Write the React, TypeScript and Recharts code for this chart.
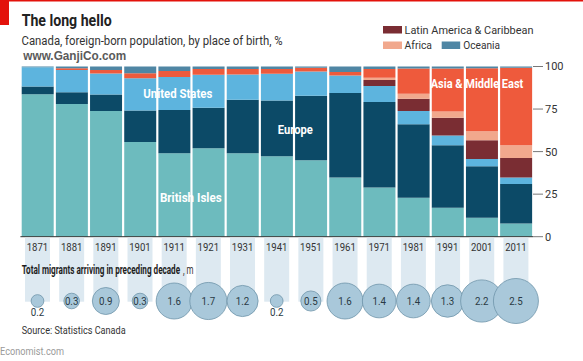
import React from "react";
import { BarChart, Bar, XAxis, YAxis, ReferenceLine, ScatterChart, Scatter, ZAxis } from "recharts";

const years = ["1871", "1881", "1891", "1901", "1911", "1921", "1931", "1941", "1951", "1961", "1971", "1981", "1991", "2001", "2011"];
const britishIsles = [83.7, 78, 73.9, 55.7, 49, 52, 49, 47.3, 44.9, 34.8, 28.9, 22.9, 17, 11.1, 7.8];
const europe = [4.5, 6.9, 9.6, 18.4, 25.5, 23.7, 31.4, 32.7, 37.9, 49.6, 50.2, 43.1, 36.7, 30.3, 23.1];
const unitedStates = [11.3, 13.1, 12.4, 19, 19.3, 19.4, 14.9, 15.8, 14.3, 10.3, 9.4, 7.8, 5.7, 4.3, 3.9];
const latinAmerica = [0, 0, 0, 0, 0, 0, 0, 0, 0, 0, 3.5, 7.3, 10.5, 10.9, 11.5];
const africa = [0, 0, 0, 0, 0, 0, 0, 0, 0, 0, 1.4, 2.9, 3.7, 5.3, 7.4];
const asia = [0, 1, 2, 3, 3.5, 3.5, 3.3, 2.7, 2.1, 2, 5.2, 14.8, 25.2, 37.1, 45.5];
const oceania = [0.5, 1, 2.1, 3.9, 2.7, 1.4, 1.4, 1.5, 0.8, 3.3, 1.4, 1.2, 1.2, 1, 0.8];
const migrants = [0.2, 0.3, 0.9, 0.3, 1.6, 1.7, 1.2, 0.2, 0.5, 1.6, 1.4, 1.4, 1.3, 2.2, 2.5];
const yTicks = [0, 25, 50, 75, 100];

const C = {
  bi: "#6dbbbe",
  eu: "#0c4a67",
  us: "#5db4de",
  la: "#7a2d33",
  af: "#f1a88d",
  as: "#ee5a3c",
  oc: "#4f86a4",
};

const table = years.map((year, i) => ({
  year,
  bi: britishIsles[i],
  eu: europe[i],
  us: unitedStates[i],
  la: latinAmerica[i],
  af: africa[i],
  as: asia[i],
  oc: oceania[i],
  m: migrants[i],
}));

const FONT = "Roboto, 'Noto Sans', sans-serif";

const YearTick = (props: any) => {
  const { x, y, payload } = props;
  return (
    <g>
      <rect x={x - 12.5} y={y + 1} width={25} height={64} fill="#dde9f1" />
      <text x={x} y={y + 14} textAnchor="middle" fontSize={10.5} fill="#333" fontFamily={FONT} textLength={21.5} lengthAdjust="spacingAndGlyphs">
        {payload.value}
      </text>
    </g>
  );
};

const Bubble = (props: any) => {
  const { cx, cy, payload } = props;
  const r = props.width ? props.width / 2 : Math.sqrt(Math.max(props.size || 0, 0) / Math.PI);
  const small = payload.m < 0.25;
  return (
    <g>
      <circle cx={cx} cy={cy} r={r} fill="#a9c8da" stroke="#6f94aa" strokeWidth={0.8} />
      <text
        x={cx}
        y={small ? cy + r + 9 : cy + 4}
        textAnchor="middle"
        fontSize={11}
        fill="#2a3a44"
        fontFamily={FONT}
        textLength={13.5}
        lengthAdjust="spacingAndGlyphs"
      >
        {payload.m.toFixed(1)}
      </text>
    </g>
  );
};

const T = (p: any) => (
  <text
    x={p.x}
    y={p.y}
    fontSize={p.size}
    fontWeight={p.bold ? 700 : 400}
    fill={p.fill || "#222"}
    textAnchor={p.anchor || "start"}
    fontFamily={p.font || FONT}
    textLength={p.len}
    lengthAdjust="spacingAndGlyphs"
  >
    {p.children}
  </text>
);

// Text scaled horizontally (via transform) so that its real box has the wanted width.
const FitText = (p: any) => {
  const ref = React.useRef<SVGTextElement>(null);
  const [k, setK] = React.useState(0.65);
  React.useLayoutEffect(() => {
    if (ref.current) {
      const w = ref.current.getComputedTextLength();
      if (w > 0) setK(p.len / w);
    }
  }, [p.len]);
  return (
    <text
      ref={ref}
      x={0}
      y={0}
      transform={`translate(${p.x},${p.y}) scale(${k},1)`}
      fontSize={p.size}
      fontWeight={p.bold ? 700 : 400}
      fill={p.fill || "#222"}
      fontFamily={FONT}
    >
      {p.children}
    </text>
  );
};

export default function App() {
  return (
    <div style={{ position: "relative", width: 583, height: 361, background: "#fff", overflow: "hidden" }}>
      <style>{"body{margin:0}"}</style>
      <div style={{ position: "absolute", left: 0, top: 0 }}>
        <BarChart
          width={583}
          height={361}
          data={table}
          margin={{ top: 66.5, right: 0, bottom: 104.3, left: 20.4 }}
          barCategoryGap={1.3}
        >
          <XAxis
            dataKey="year"
            height={20}
            axisLine={false}
            tickLine={false}
            tickSize={0}
            tickMargin={0}
            interval={0}
            tick={<YearTick />}
          />
          <YAxis
            orientation="right"
            width={50}
            domain={[0, 100]}
            ticks={yTicks}
            axisLine={false}
            tickSize={10}
            tickMargin={2}
            tickLine={{ stroke: "#555", strokeWidth: 0.8 }}
            tick={{ fontSize: 11, fill: "#333", fontFamily: FONT }}
            interval={0}
          />
          <Bar dataKey="bi" stackId="a" fill={C.bi} isAnimationActive={false} />
          <Bar dataKey="eu" stackId="a" fill={C.eu} isAnimationActive={false} />
          <Bar dataKey="us" stackId="a" fill={C.us} isAnimationActive={false} />
          <Bar dataKey="la" stackId="a" fill={C.la} isAnimationActive={false} />
          <Bar dataKey="af" stackId="a" fill={C.af} isAnimationActive={false} />
          <Bar dataKey="as" stackId="a" fill={C.as} isAnimationActive={false} />
          <Bar dataKey="oc" stackId="a" fill={C.oc} isAnimationActive={false} />
          <ReferenceLine y={0} stroke="#333" strokeWidth={1} />
        </BarChart>
      </div>
      <div style={{ position: "absolute", left: 0, top: 0 }}>
        <ScatterChart width={583} height={361} data={table} margin={{ top: 280, right: 50, bottom: 39, left: 20.4 }}>
          <XAxis dataKey="year" type="category" hide allowDuplicatedCategory={false} />
          <YAxis dataKey={() => 0} type="number" hide domain={[-1, 1]} />
          <ZAxis dataKey="m" type="number" domain={[0, 2.5]} range={[0, Math.PI * 22.5 * 22.5]} />
          <Scatter data={table} shape={<Bubble />} isAnimationActive={false} />
        </ScatterChart>
      </div>
      <svg width={583} height={361} style={{ position: "absolute", left: 0, top: 0, pointerEvents: "none" }}>
        <rect x={0} y={0} width={583} height={1.5} fill="#e3120b" />
        <rect x={0} y={0} width={9} height={25} fill="#e3120b" />
        <T x={21.7} y={26} size={16} bold len={90}>The long hello</T>
        <T x={21.5} y={45} size={12.5} len={261} fill="#333">Canada, foreign-born population, by place of birth, %</T>
        <T x={23.3} y={60} size={12} bold len={103} fill="#5a5a5a" font="'Liberation Sans', Arial, sans-serif">www.GanjiCo.com</T>

        <rect x={383} y={26} width={19} height={7.5} fill={C.la} />
        <T x={404.5} y={33.5} size={11} len={129} fill="#333">Latin America &amp; Caribbean</T>
        <rect x={383} y={41.5} width={19} height={7.5} fill={C.af} />
        <T x={404.5} y={49} size={11} len={27.5} fill="#333">Africa</T>
        <rect x={441.7} y={41.5} width={18.5} height={7.5} fill={C.oc} />
        <T x={463.3} y={49} size={11} len={36.7} fill="#333">Oceania</T>

        <T x={177.8} y={97.7} size={12} bold len={69} fill="#fff" anchor="middle">United States</T>
        <T x={295.3} y={134} size={12} bold len={35} fill="#fff" anchor="middle">Europe</T>
        <T x={190.8} y={201.7} size={12} bold len={61.7} fill="#fff" anchor="middle">British Isles</T>
        <T x={477} y={87.7} size={12} bold len={92.6} fill="#fff" anchor="middle">Asia &amp; Middle East</T>

        <FitText x={21.7} y={273.5} size={12.5} bold len={158.5} fill="#1e1e1e">Total migrants arriving in preceding decade</FitText>
        <FitText x={183} y={273.5} size={12} len={10.5} fill="#333">, m</FitText>
        <T x={21.7} y={334} size={10.5} len={104} fill="#333">Source: Statistics Canada</T>
        <T x={0} y={355} size={10.5} len={64} fill="#9a9a9a">Economist.com</T>
      </svg>
    </div>
  );
}
